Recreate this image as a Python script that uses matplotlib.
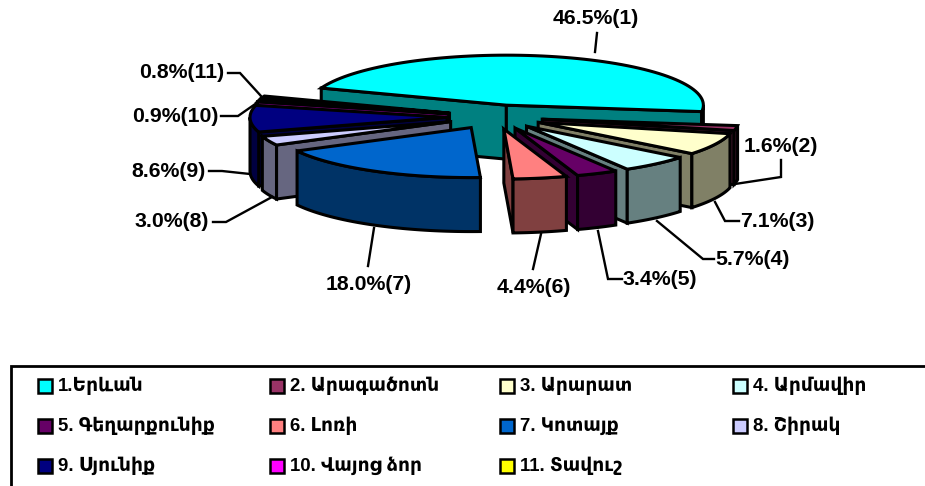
import numpy as np
import matplotlib
matplotlib.use('Agg')
import matplotlib.pyplot as plt
from matplotlib.patches import Polygon, Rectangle

shares = [46.5, 1.6, 7.1, 5.7, 3.4, 4.4, 18.0, 3.0, 8.6, 0.9, 0.8]
names = ['1.Երևան', '2. Արագածոտն', '3. Արարատ', '4. Արմավիր',
         '5. Գեղարքունիք', '6. Լոռի', '7. Կոտայք', '8. Շիրակ',
         '9. Սյունիք', '10. Վայոց ձոր', '11. Տավուշ']
top_colors = ['#00FFFF', '#993366', '#FFFFCC', '#CCFFFF', '#660066', '#FF8080',
              '#0066CC', '#CCCCFF', '#000080', '#FF00FF', '#FFFF00']
side_colors = ['#008080', '#4D1A33', '#808066', '#668080', '#330033', '#804040',
               '#003366', '#666680', '#000040', '#800080', '#808000']

# pie geometry, pixels
cx, cy = 495, 117
rx, ry = 197, 50
depth = 54
explode = 48
start = -70
paint_order = [0, 10, 9, 8, 7, 1, 2, 3, 4, 6, 5]

# label text position, then leader line
label_pos = [(596, 18), (781, 146), (777, 221), (752, 259), (660, 279),
             (534, 287), (369, 284), (172, 221), (169, 171), (175, 116), (182, 73)]
leaders = [[(597, 33), (595, 52)],
           [(735, 184), (781, 177), (781, 160)],
           [(715, 202), (725, 221), (739, 221)],
           [(657, 221), (703, 259), (714, 259)],
           [(598, 231), (608, 279), (622, 279)],
           [(541, 234), (533, 269)],
           [(374, 228), (368, 266)],
           [(272, 197), (226, 222), (213, 222)],
           [(250, 174), (222, 171), (209, 171)],
           [(261, 100), (238, 116), (221, 116)],
           [(261, 96), (240, 73), (228, 73)]]

legend_x = [38, 270, 500, 733]
legend_y = [386, 426, 466]

plt.rcParams['font.family'] = ['Liberation Sans', 'DejaVu Sans']

fig = plt.figure(figsize=(9.25, 4.86), dpi=100)
ax = fig.add_axes([0, 0, 1, 1])
ax.set_xlim(0, 925)
ax.set_ylim(486, 0)
ax.axis('off')


def point(a, ox, oy):
    t = np.radians(a)
    return np.column_stack([ox + rx * np.sin(t), oy - ry * np.cos(t)])


def face(pts, color, z):
    ax.add_patch(Polygon(pts, closed=True, fc=color, ec='black', lw=2.2,
                         joinstyle='miter', zorder=z))


ends = start + np.cumsum(shares) * 3.6
begins = ends - np.array(shares) * 3.6

for rank, i in enumerate(paint_order):
    a, b = begins[i], ends[i]
    mid = np.radians((a + b) / 2)
    ox = cx + explode * np.sin(mid)
    oy = cy - explode * ry / rx * np.cos(mid)
    apex = np.array([[ox, oy]])
    down = np.array([0, depth])
    z = 2 + rank

    arc = point(np.linspace(a, b, 80), ox, oy)

    # cut faces, only where they look towards the viewer
    if np.sin(np.radians(a)) < 0 or i == 0:
        e = point(np.array([a]), ox, oy)
        face(np.vstack([apex, e, e + down, apex + down]), side_colors[i], z)
    if np.sin(np.radians(b)) > 0:
        e = point(np.array([b]), ox, oy)
        face(np.vstack([apex, e, e + down, apex + down]), side_colors[i], z)

    # rim, front half of the ellipse only
    lo, hi = max(a, 90), min(b, 270)
    if hi > lo:
        r = point(np.linspace(lo, hi, 60), ox, oy)
        face(np.vstack([r, (r + down)[::-1]]), side_colors[i], z)

    face(np.vstack([apex, arc]), top_colors[i], z)

for i in range(len(shares)):
    xs, ys = zip(*leaders[i])
    ax.plot(xs, ys, color='black', lw=1.7, zorder=20, solid_joinstyle='miter')
    ax.text(label_pos[i][0], label_pos[i][1], '%.1f%%(%d)' % (shares[i], i + 1),
            fontsize=15.3, fontweight='bold', ha='center', va='center', zorder=21)

# legend frame runs off the canvas on the right and bottom
ax.plot([11, 11, 925], [486, 366, 366], color='black', lw=2.0, zorder=1,
        solid_joinstyle='miter')
for i, name in enumerate(names):
    x = legend_x[i % 4]
    y = legend_y[i // 4]
    ax.add_patch(Rectangle((x, y - 7), 14, 14, fc=top_colors[i], ec='black', lw=1.8))
    ax.text(x + 20, y, name, fontsize=13.4, fontweight='bold', ha='left', va='center')

fig.savefig('out.png', dpi=100)
